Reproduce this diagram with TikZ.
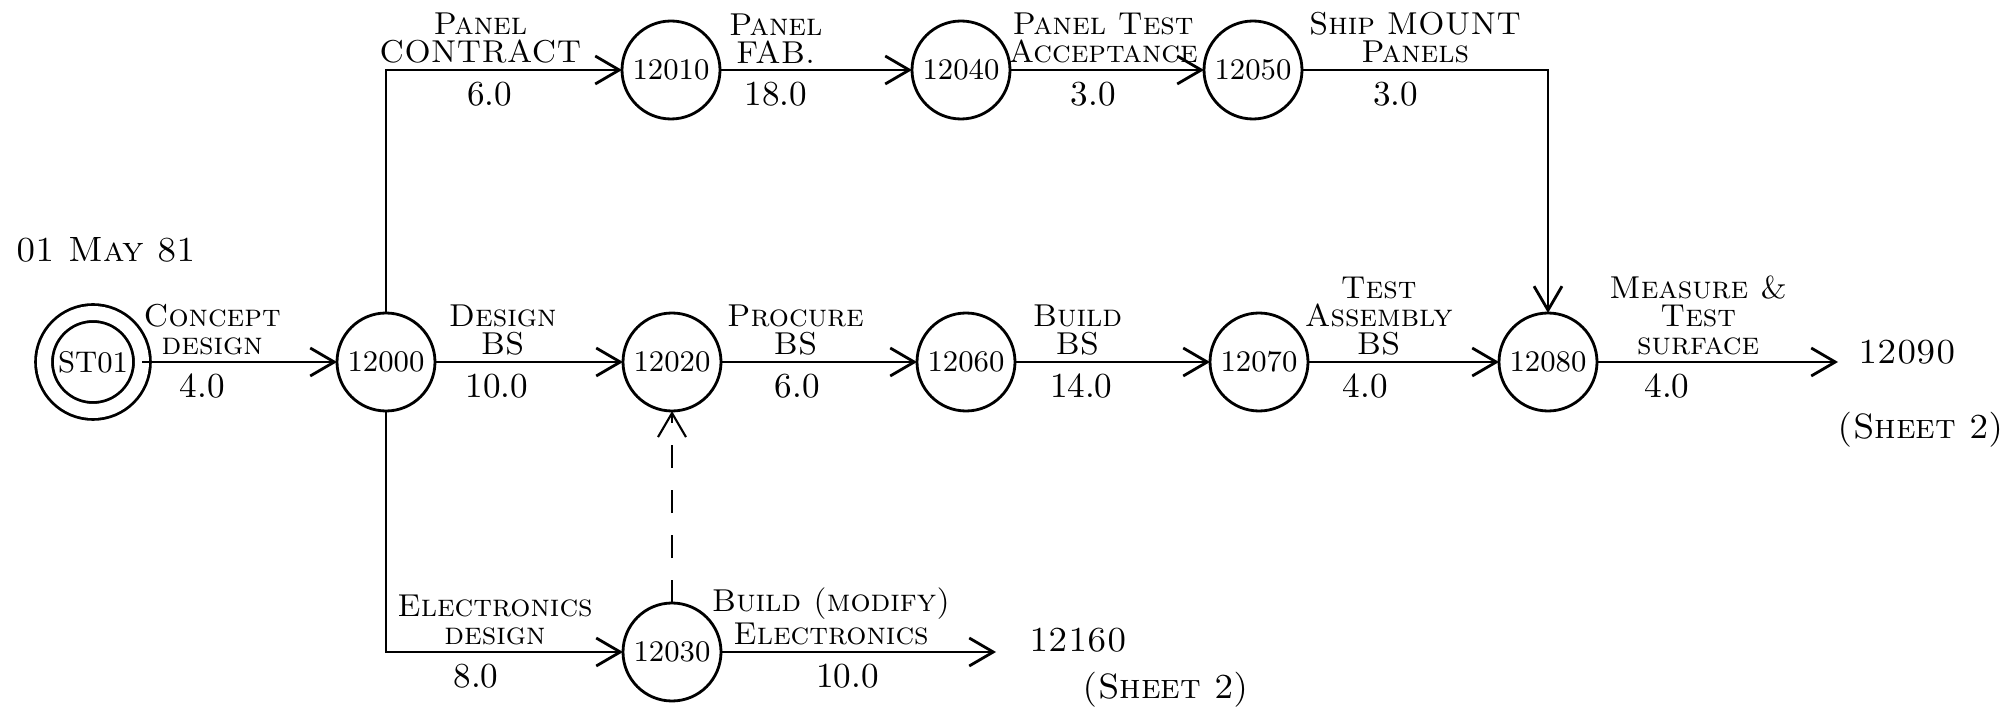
\documentclass[tikz,border=0pt]{standalone}
\usepackage{tikz}
\usepackage{tkz-berge}
\usetikzlibrary{arrows.meta,shapes}
\newcommand{\evsize}{9.8mm}
\newcommand{\linew}{0.8pt}
\tikzset{act/.style={-{Straight Barb[length=2.4mm,width=2.8mm]}, line width=\linew},
  tl/.style={above, align=center, inner sep=1.5pt, font=\fontsize{9}{8}\selectfont\scshape},
  dl/.style={below, inner sep=3pt, font=\fontsize{10}{12}\selectfont},
  txt/.style={font=\fontsize{10}{12}\selectfont\scshape}}

\begin{document}
\begin{tikzpicture}
  \useasboundingbox (0,0) rectangle (20.15,7.07);
  \GraphInit[vstyle=Normal]
  \SetVertexNormal[Shape=circle, FillColor=white, LineWidth=\linew, MinSize=\evsize]
  \tikzset{VertexStyle/.append style = {inner sep=0pt, font=\fontsize{8.5}{10}\selectfont}}
  % events
  \Vertex[x=0.93,y=3.45,L=ST01,style={double,double distance=1.4mm,outer sep=0.9mm,font=\fontsize{8}{10}\selectfont}]{st}
  \Vertex[x=3.86,y=3.45,L=12000]{n12000}
  \Vertex[x=6.71,y=6.37,L=12010]{n12010}
  \Vertex[x=9.61,y=6.37,L=12040]{n12040}
  \Vertex[x=12.53,y=6.37,L=12050]{n12050}
  \Vertex[x=6.72,y=3.45,L=12020]{n12020}
  \Vertex[x=9.66,y=3.45,L=12060]{n12060}
  \Vertex[x=12.59,y=3.45,L=12070]{n12070}
  \Vertex[x=15.48,y=3.45,L=12080]{n12080}
  \Vertex[x=6.72,y=0.55,L=12030]{n12030}
  \coordinate (end12090) at (18.38,3.45);
  \coordinate (end12160) at (9.96,0.55);
  % activities
  \draw[act] (st) -- node[tl,pos=.36]{Concept\\design} node[dl,pos=.31]{4.0} (n12000);
  \draw[act] (n12000) -- node[tl,pos=.36]{Design\\BS} node[dl,pos=.33]{10.0} (n12020);
  \draw[act] (n12020) -- node[tl,pos=.38]{Procure\\BS} node[dl,pos=.39]{6.0} (n12060);
  \draw[act] (n12060) -- node[tl,pos=.32]{Build\\BS} node[dl,pos=.34]{14.0} (n12070);
  \draw[act] (n12070) -- node[tl,pos=.37]{Test\\Assembly\\BS} node[dl,pos=.30]{4.0} (n12080);
  \draw[act] (n12080) -- node[tl,pos=.42]{Measure \&\\Test\\surface} node[dl,pos=.29]{4.0} (end12090);
  \draw[act] (n12000) |- node[tl,pos=.70]{Panel\\CONTRACT} node[dl,pos=.72]{6.0} (n12010);
  \draw[act] (n12010) -- node[tl,pos=.29]{Panel\\FAB.} node[dl,pos=.29]{18.0} (n12040);
  \draw[act] (n12040) -- node[tl,pos=.48]{Panel Test\\Acceptance} node[dl,pos=.43]{3.0} (n12050);
  \draw[act] (n12050) -| node[tl,pos=.23]{Ship MOUNT\\Panels} node[dl,pos=.19]{3.0} (n12080);
  \draw[act] (n12000) |- node[tl,pos=.73]{Electronics\\design} node[dl,pos=.69]{8.0} (n12030);
  \draw[act] (n12030) -- node[tl,pos=.40]{Build (modify)\\Electronics} node[dl,pos=.46]{10.0} (end12160);
  \draw[act, line width=0.6pt, dash pattern=on 2.3mm off 2.2mm] (n12030) -- (n12020);
  % notes
  \node[txt, anchor=west] (date) at (0.04,4.57) {01 May 81};
  \node[txt] (ev12090) at (19.07,3.55) {12090};
  \node[txt] (sheet1) at (19.21,2.77) {(Sheet 2)};
  \node[txt] (ev12160) at (10.78,0.67) {12160};
  \node[txt] (sheet2) at (11.66,0.17) {(Sheet 2)};
\end{tikzpicture}
\end{document}
